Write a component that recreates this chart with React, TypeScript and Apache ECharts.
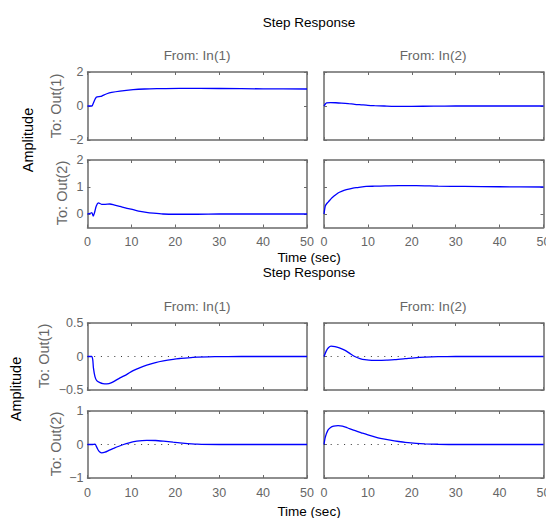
import React, { useEffect, useRef } from "react";
import * as echarts from "echarts";

// ---------- data ----------
const timeTicks = [0, 10, 20, 30, 40, 50];

// Figure 1 (top)
const f1_o1i1_t = [0, 1.0, 1.3, 2.0, 3.0, 3.5, 4.4, 5.5, 7.4, 10.4, 13, 15.8, 21, 30, 40, 50];
const f1_o1i1_y = [0, 0, 0.15, 0.52, 0.56, 0.62, 0.72, 0.8, 0.88, 0.96, 1.0, 1.02, 1.04, 1.03, 1.01, 1.0];

const f1_o2i1_t = [0, 0.6, 1.0, 1.3, 1.6, 2.0, 2.5, 3.2, 4.0, 5.1, 6.0, 7.4, 9.0, 10.4, 12, 13.4, 15, 17.2, 20, 25, 30, 40, 50];
const f1_o2i1_y = [0, 0.02, 0.05, -0.08, 0.05, 0.3, 0.41, 0.36, 0.36, 0.37, 0.34, 0.28, 0.21, 0.16, 0.1, 0.06, 0.03, 0.0, -0.01, -0.01, 0, 0, 0];

const f1_o1i2_t = [0, 0.3, 0.6, 1.5, 2.7, 4, 5.5, 7, 8.5, 10, 11.5, 13.7, 16, 20, 25, 30, 40, 50];
const f1_o1i2_y = [0, 0.12, 0.18, 0.2, 0.19, 0.17, 0.14, 0.1, 0.07, 0.04, 0.02, 0.0, -0.02, -0.02, -0.01, 0, 0, 0];

const f1_o2i2_t = [0, 0.3, 0.6, 1.0, 1.7, 2.1, 3.2, 4.0, 5.1, 6.6, 7.7, 9.6, 11.5, 14, 17, 21, 26, 32, 40, 50];
const f1_o2i2_y = [0, 0.3, 0.38, 0.45, 0.58, 0.64, 0.78, 0.84, 0.9, 0.96, 0.98, 1.02, 1.03, 1.04, 1.05, 1.05, 1.03, 1.02, 1.01, 1.0];

// Figure 2 (bottom)
const f2_o1i1_t = [0, 0.95, 1.2, 1.35, 1.7, 2.1, 2.85, 3.5, 4.4, 5.5, 7.4, 8.9, 10.4, 12, 13.5, 15.5, 17.3, 19.5, 21, 24, 29, 35, 50];
const f2_o1i1_y = [0, 0, -0.05, -0.17, -0.3, -0.36, -0.39, -0.405, -0.41, -0.39, -0.32, -0.27, -0.21, -0.165, -0.13, -0.09, -0.065, -0.042, -0.03, -0.012, -0.002, 0, 0];

const f2_o2i1_t = [0, 1.0, 1.7, 2.1, 2.6, 3.2, 4.0, 5.0, 5.9, 7.0, 8.2, 9.5, 11.2, 13.5, 15.5, 17.3, 19.5, 21, 25, 30, 40, 50];
const f2_o2i1_y = [0, 0, 0.01, -0.08, -0.2, -0.25, -0.23, -0.17, -0.12, -0.06, 0, 0.05, 0.1, 0.125, 0.12, 0.1, 0.07, 0.05, 0.01, 0, 0, 0];

const f2_o1i2_t = [0, 0.5, 1.0, 1.6, 2.5, 3.5, 4.7, 5.8, 7.0, 8.2, 9.3, 10.9, 12.5, 14.5, 16.1, 18.5, 20.6, 23, 26, 30, 40, 50];
const f2_o1i2_y = [0, 0.08, 0.13, 0.155, 0.148, 0.128, 0.095, 0.05, 0.0, -0.03, -0.047, -0.058, -0.058, -0.053, -0.047, -0.033, -0.02, -0.01, -0.003, 0, 0, 0];

const f2_o2i2_t = [0, 0.3, 0.9, 1.5, 2.2, 3.2, 4.2, 5.3, 6.7, 8.5, 10, 12.3, 13.5, 15.4, 17, 18.5, 21, 23, 26, 30, 40, 50];
const f2_o2i2_y = [0, 0.22, 0.43, 0.51, 0.55, 0.565, 0.55, 0.5, 0.43, 0.35, 0.285, 0.2, 0.165, 0.12, 0.09, 0.065, 0.035, 0.02, 0.008, 0, 0, 0];

// y tick values
const f1_row1_ticks = [-2, 0, 2];
const f1_row2_ticks = [0, 1, 2];
const f2_row1_ticks = [-0.5, 0, 0.5];
const f2_row2_ticks = [-1, 0, 1];

// ---------- layout ----------
const FONT = "'Liberation Sans', Arial, Helvetica, sans-serif";
const AXIS_COLOR = "#6a6a6a";
const LABEL_COLOR = "#666666";
const LINE_COLOR = "#0000ff";

const L_LEFT = 87.5;
const R_LEFT = 324;
const P_WIDTH = 219.5;

type Panel = {
  left: number; top: number; height: number;
  yMin: number; yMax: number; yTicks: number[];
  xLabels: boolean; yLabels: boolean;
  t: number[]; v: number[]; zero: boolean;
};

const panels: Panel[] = [
  { left: L_LEFT, top: 72, height: 68, yMin: -2, yMax: 2, yTicks: f1_row1_ticks, xLabels: false, yLabels: true, t: f1_o1i1_t, v: f1_o1i1_y, zero: false },
  { left: R_LEFT, top: 72, height: 68, yMin: -2, yMax: 2, yTicks: f1_row1_ticks, xLabels: false, yLabels: false, t: f1_o1i2_t, v: f1_o1i2_y, zero: false },
  { left: L_LEFT, top: 160, height: 67.5, yMin: -0.5, yMax: 2, yTicks: f1_row2_ticks, xLabels: true, yLabels: true, t: f1_o2i1_t, v: f1_o2i1_y, zero: false },
  { left: R_LEFT, top: 160, height: 67.5, yMin: -0.5, yMax: 2, yTicks: f1_row2_ticks, xLabels: true, yLabels: false, t: f1_o2i2_t, v: f1_o2i2_y, zero: false },
  { left: L_LEFT, top: 323, height: 67, yMin: -0.5, yMax: 0.5, yTicks: f2_row1_ticks, xLabels: false, yLabels: true, t: f2_o1i1_t, v: f2_o1i1_y, zero: true },
  { left: R_LEFT, top: 323, height: 67, yMin: -0.5, yMax: 0.5, yTicks: f2_row1_ticks, xLabels: false, yLabels: false, t: f2_o1i2_t, v: f2_o1i2_y, zero: true },
  { left: L_LEFT, top: 411, height: 67, yMin: -1, yMax: 1, yTicks: f2_row2_ticks, xLabels: true, yLabels: true, t: f2_o2i1_t, v: f2_o2i1_y, zero: true },
  { left: R_LEFT, top: 411, height: 67, yMin: -1, yMax: 1, yTicks: f2_row2_ticks, xLabels: true, yLabels: false, t: f2_o2i2_t, v: f2_o2i2_y, zero: true },
];

const fmt = (v: number) => String(v).replace("-", "\u2212");

function buildOption() {
  const grid: any[] = [];
  const xAxis: any[] = [];
  const yAxis: any[] = [];
  const series: any[] = [];
  const axisLine = { show: true, onZero: false, lineStyle: { color: AXIS_COLOR, width: 1.5 } };
  const tick = (vals: number[]) => ({ show: true, inside: true, length: 3, customValues: vals, lineStyle: { color: AXIS_COLOR, width: 1 } });

  panels.forEach((p, i) => {
    grid.push({ left: p.left, top: p.top, width: P_WIDTH, height: p.height, containLabel: false, outerBoundsMode: "none" });
    xAxis.push({
      type: "value", gridIndex: i, position: "bottom", min: 0, max: 50,
      axisLine, axisTick: tick(timeTicks), splitLine: { show: false },
      axisLabel: { show: p.xLabels, customValues: timeTicks, margin: 8, color: LABEL_COLOR, fontSize: 12.5, fontFamily: FONT, formatter: fmt },
    });
    xAxis.push({
      type: "value", gridIndex: i, position: "top", min: 0, max: 50,
      axisLine, axisTick: tick(timeTicks), splitLine: { show: false }, axisLabel: { show: false },
    });
    yAxis.push({
      type: "value", gridIndex: i, position: "left", min: p.yMin, max: p.yMax,
      axisLine, axisTick: tick(p.yTicks), splitLine: { show: false },
      axisLabel: { show: p.yLabels, customValues: p.yTicks, margin: 4, color: LABEL_COLOR, fontSize: 12.5, fontFamily: FONT, formatter: fmt },
    });
    yAxis.push({
      type: "value", gridIndex: i, position: "right", min: p.yMin, max: p.yMax,
      axisLine, axisTick: tick(p.yTicks), splitLine: { show: false }, axisLabel: { show: false },
    });
    const s: any = {
      type: "line", xAxisIndex: 2 * i, yAxisIndex: 2 * i,
      data: p.t.map((t, k) => [t, p.v[k]]),
      showSymbol: false, symbol: "none",
      smooth: 0.25,
      lineStyle: { color: LINE_COLOR, width: 1.3 },
      silent: true, clip: true, z: 3,
    };
    if (p.zero) {
      s.markLine = {
        silent: true, symbol: "none", label: { show: false },
        lineStyle: { type: [1, 5.7], color: "#333", width: 1 },
        data: [{ yAxis: 0 }], z: 2,
      };
    }
    series.push(s);
  });

  const txt = (text: string, x: number, y: number, size: number, fill: string, rot = 0) => ({
    type: "text", x, y, rotation: rot, silent: true,
    style: { text, fontSize: size, fontFamily: FONT, fill, align: "center", verticalAlign: "middle" },
  });
  const R = Math.PI / 2;
  const graphic = [
    txt("Step Response", 309, 22, 13.5, "#000"),
    txt("From: In(1)", 197, 55, 13.5, LABEL_COLOR),
    txt("From: In(2)", 433, 55, 13.5, LABEL_COLOR),
    txt("Amplitude", 28, 140, 14.5, "#000", R),
    txt("To: Out(1)", 56, 106, 14.5, LABEL_COLOR, R),
    txt("To: Out(2)", 62, 193, 14.5, LABEL_COLOR, R),
    txt("Time (sec)", 309, 257, 13.5, "#000"),
    txt("Step Response", 309, 272.5, 13.5, "#000"),
    txt("From: In(1)", 197, 306, 13.5, LABEL_COLOR),
    txt("From: In(2)", 433, 306, 13.5, LABEL_COLOR),
    txt("Amplitude", 16, 389, 14.5, "#000", R),
    txt("To: Out(1)", 44, 356, 14.5, LABEL_COLOR, R),
    txt("To: Out(2)", 56, 444, 14.5, LABEL_COLOR, R),
    txt("Time (sec)", 309, 511, 13.5, "#000"),
  ];

  return {
    animation: false,
    backgroundColor: "#ffffff",
    grid, xAxis, yAxis, series, graphic,
  };
}

export default function App() {
  const ref = useRef<HTMLDivElement>(null);
  useEffect(() => {
    if (!ref.current) return;
    const chart = echarts.init(ref.current, undefined, { renderer: "svg" });
    chart.setOption(buildOption() as any);
    return () => chart.dispose();
  }, []);
  return (
    <div
      ref={ref}
      style={{ position: "fixed", left: 0, top: 0, width: 546, height: 518, background: "#fff" }}
    />
  );
}
